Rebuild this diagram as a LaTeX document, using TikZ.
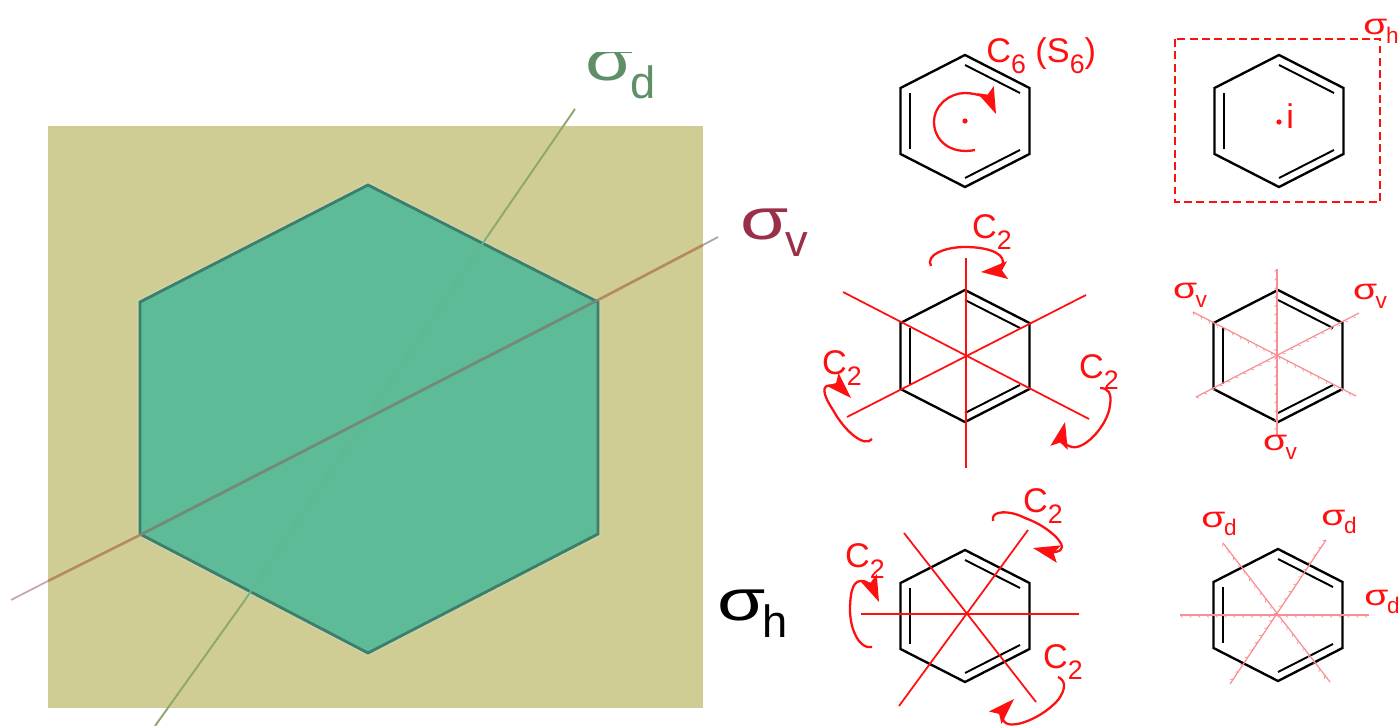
\documentclass[tikz,border=0pt]{standalone}
\usepackage{fontspec}
\setmainfont{Liberation Sans}
\usepackage{xcolor}
\usepackage{tikz}
\usetikzlibrary{arrows.meta, decorations.pathreplacing}

\definecolor{planebg}{HTML}{D0CD94}
\definecolor{hexfill}{HTML}{5DBB98}
\definecolor{hexedge}{HTML}{3D7D6B}
\definecolor{hexhalo}{HTML}{CBD3A4}
\definecolor{axisred}{HTML}{FF1010}
\definecolor{mirrorred}{HTML}{F88F95}
\definecolor{dline}{HTML}{8FA86A}
\definecolor{dlinein}{HTML}{62B88C}
\definecolor{dtext}{HTML}{5E8F68}
\definecolor{vline}{HTML}{B58A5E}
\definecolor{vlinein}{HTML}{73897A}
\definecolor{vlineout}{HTML}{C9A4B4}
\definecolor{vtext}{HTML}{9A2F48}

\newcommand{\sublab}[1]{\raisebox{-0.3em}{\scalebox{0.78}{#1}}}
\newcommand{\sigmalab}[1]{\scalebox{1.35}[1]{σ}\hspace{-0.05em}\sublab{#1}}
\newcommand{\benzene}[2]{%
  \begin{scope}[shift={(#1,#2)}]
    \draw[bond] (0,-66) -- (64.5,-33) -- (64.5,33) -- (0,66) -- (-64.5,33) -- (-64.5,-33) -- cycle;
    \draw[bond, line width=1.1pt] (0,-56) -- (55,-28);
    \draw[bond, line width=1.1pt] (-55,-28) -- (-55,28);
    \draw[bond, line width=1.1pt] (0,57) -- (55,29);
  \end{scope}}

\begin{document}
\begin{tikzpicture}[x=0.02cm, y=-0.02cm,
        bond/.style={draw=black, line width=1.35pt, line join=miter},
        axisline/.style={draw=axisred, line width=1pt},
        spin/.style={draw=axisred, line width=1.3pt,
                     -{Stealth[length=15pt, width=10pt, inset=3pt]}},
        mirror/.style={draw=mirrorred, line width=0.7pt,
                       postaction={draw=mirrorred, line width=0.4pt, decorate,
                       decoration={border, segment length=5pt, amplitude=2pt, angle=-45}}},
        redlab/.style={text=axisred, inner sep=0pt, font=\fontsize{19.5}{22}\selectfont},
        siglab/.style={text=axisred, inner sep=0pt, font=\fontsize{16.5}{20}\selectfont},
        biglab/.style={inner sep=0pt, font=\fontsize{33}{36}\selectfont}]
  \useasboundingbox (0,0) rectangle (1399,726);

  % plane and hexagon
  \fill[planebg] (48,126) rectangle (703,708);
  \draw[hexhalo, line width=1.6pt] (368,183) -- (600,301) -- (600,535) -- (368,655) -- (138,535) -- (138,301) -- cycle;
  \draw[fill=hexfill, draw=hexedge, line width=1.6pt] (368,185) -- (598,302) -- (598,534) -- (368,653) -- (140,534) -- (140,302) -- cycle;

  % mirror planes of the left picture
  \coordinate (dtop) at (575,109);
  \coordinate (dhi) at (487,237);
  \coordinate (dlo) at (245,600);
  \coordinate (dbot) at (155,726);
  \draw[draw=dline, line width=1.1pt] (dtop) -- (dhi);
  \draw[draw=dlinein, line width=1pt] (dhi) -- (dlo);
  \draw[draw=dline, line width=1.1pt] (dlo) -- (dbot);
  \coordinate (vtop) at (718,237);
  \coordinate (vright) at (703,245);
  \coordinate (vhi) at (598,300);
  \coordinate (vlo) at (140,535);
  \coordinate (vout) at (48,581);
  \coordinate (vbot) at (11,600);
  \draw[draw=gray!70, line width=1pt] (vtop) -- (vright);
  \draw[draw=vline, line width=1.5pt] (vright) -- (vhi);
  \draw[draw=vlinein, line width=1.6pt] (vhi) -- (vlo);
  \draw[draw=vline, line width=1.5pt] (vlo) -- (vout);
  \draw[draw=vlineout, line width=1pt] (vout) -- (vbot);

  \begin{scope}
    \clip (540,53) rectangle (700,120);
    \node[biglab, text=dtext, anchor=base west] (sigd) at (585,81) {\sigmalab{d}};
  \end{scope}
  \node[biglab, text=vtext, anchor=base west] (sigv) at (740,239) {\sigmalab{v}};
  \node[biglab, text=black, anchor=base west] (sigh) at (717,620) {\sigmalab{h}};

  % first row
  \benzene{965}{121}
  \fill[axisred] (965,121) circle (2.6);
  \draw[spin] (975,150) .. controls (950,155) and (934,140) .. (934,122)
    .. controls (934,105) and (950,93) .. (965,93)
    .. controls (978,93) and (990,100) .. (996,114);
  \node[redlab, anchor=base west] (csix) at (986,63) {C\sublab{6} (S\sublab{6})};

  \benzene{1279}{121}
  \fill[axisred] (1279,122) circle (2.6);
  \node[redlab, anchor=base west] (inv) at (1286,129) {i};
  \draw[draw=axisred, line width=1.4pt, dashed, dash pattern=on 4.5pt off 2.5pt] (1175,39) rectangle (1380,202);
  \node[siglab, anchor=base west] (sighplane) at (1363,35) {\sigmalab{h}};

  % second row
  \benzene{965}{356}
  \draw[axisline] (966,258) -- (966,468);
  \draw[axisline] (843,292) -- (1089,419);
  \draw[axisline] (847,417) -- (1086,295);
  \draw[spin] (931,266) .. controls (925,255) and (945,247) .. (965,247)
    .. controls (985,247) and (1003,252) .. (1003,262)
    .. controls (1003,268) and (995,271) .. (981,272);
  \draw[spin] (872,439) .. controls (865,448) and (845,432) .. (833,410)
    .. controls (823,395) and (820,383) .. (833,386)
    .. controls (838,388) and (845,392) .. (851,398);
  \draw[spin] (1100,388) .. controls (1108,388) and (1112,393) .. (1110,405)
    .. controls (1108,425) and (1085,450) .. (1072,447)
    .. controls (1062,445) and (1062,435) .. (1065,422);
  \node[redlab] (ctwoa) at (992,232) {C\sublab{2}};
  \node[redlab] (ctwob) at (842,368) {C\sublab{2}};
  \node[redlab] (ctwoc) at (1099,372) {C\sublab{2}};

  \benzene{1278}{356}
  \draw[mirror] (1277,269) -- (1277,435);
  \draw[mirror] (1193,312) -- (1356,396);
  \draw[mirror] (1196,397) -- (1359,313);
  \node[siglab] (sigva) at (1190,295) {\sigmalab{v}};
  \node[siglab] (sigvb) at (1370,296) {\sigmalab{v}};
  \node[siglab] (sigvc) at (1280,447) {\sigmalab{v}};

  % third row
  \benzene{965}{616}
  \draw[axisline] (861,614) -- (1079,614);
  \draw[axisline] (904,533) -- (1036,702);
  \draw[axisline] (1028,530) -- (899,706);
  \draw[spin] (993,521) .. controls (990,510) and (1010,510) .. (1025,518)
    .. controls (1045,525) and (1062,540) .. (1062,547)
    .. controls (1062,553) and (1050,552) .. (1033,548);
  \draw[spin] (872,647) .. controls (860,650) and (850,630) .. (850,610)
    .. controls (850,595) and (852,582) .. (860,581)
    .. controls (868,580) and (873,588) .. (879,602);
  \draw[spin] (1058,677) .. controls (1065,680) and (1067,688) .. (1058,700)
    .. controls (1045,715) and (1020,727) .. (1008,724)
    .. controls (1000,722) and (1003,710) .. (1014,699);
  \node[redlab] (ctwod) at (1043,506) {C\sublab{2}};
  \node[redlab] (ctwoe) at (865,561) {C\sublab{2}};
  \node[redlab] (ctwof) at (1063,662) {C\sublab{2}};

  \benzene{1278}{615}
  \draw[mirror] (1180,615) -- (1369,615);
  \draw[mirror] (1223,543) -- (1330,682);
  \draw[mirror] (1326,540) -- (1230,684);
  \node[siglab] (sigda) at (1219,524) {\sigmalab{d}};
  \node[siglab] (sigdb) at (1339,522) {\sigmalab{d}};
  \node[siglab, anchor=west] (sigdc) at (1364,602) {\sigmalab{d}};
\end{tikzpicture}
\end{document}
